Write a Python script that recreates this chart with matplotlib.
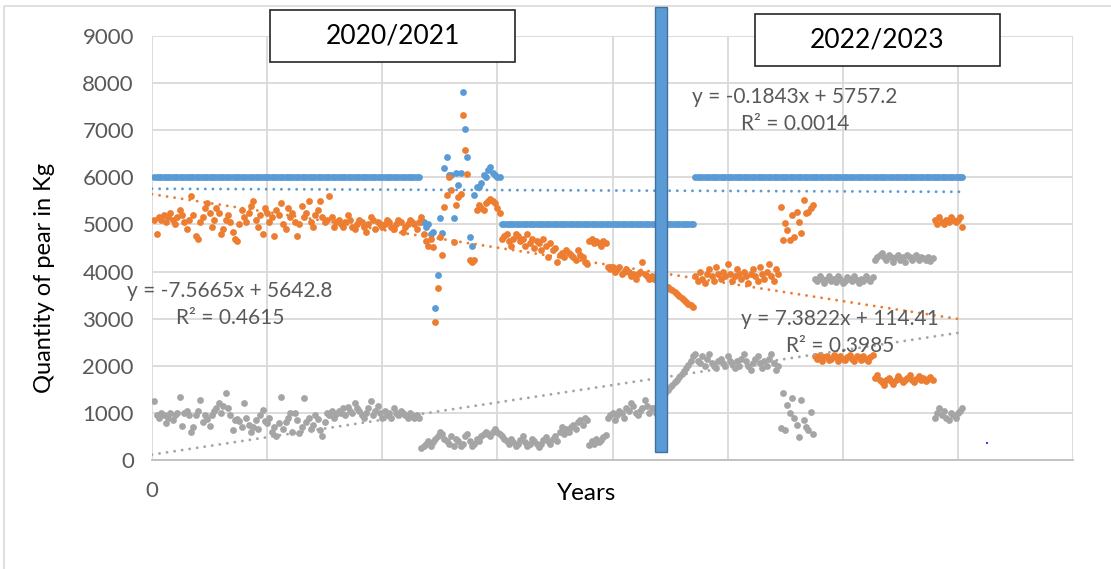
import numpy as np
import matplotlib.pyplot as plt
from matplotlib.patches import Rectangle

plt.rcParams['font.family'] = ['Lato', 'DejaVu Sans']

# data, one value per day index (x = 1 .. 352)
blue = ([6000] * 116 +
        [5050, 5050, 4950, 5000, 4800, 4850, 3230, 3930, 5130, 4820,
         6200, 6430, 6050, 6050, 5130, 6100, 5840, 6100, 7820, 7020,
         6430, 4730, 4550, 5620, 5800, 5800, 5880, 6050, 6000, 6150,
         6220, 6100, 6050, 6000, 6000] +
        [5000] * 84 +
        [6000] * 117)

orange = [5100, 4800, 5150, 5100, 5200, 5050, 5150, 5250, 5100, 5000,
          5150, 5300, 5200, 5050, 4900, 5100, 5600, 5200, 4750, 4700,
          5050, 5150, 5350, 5450, 5250, 4950, 5100, 5350, 5250, 4800,
          4900, 5100, 5200, 5050, 4850, 4700, 4650, 5000, 5300, 5150,
          5050, 5250, 5400, 5500, 5100, 4950, 5200, 4800, 5350, 5250,
          5050, 5150, 4750, 5300, 5200, 5450, 5000, 4900, 5350, 5150,
          5250, 5050, 4750, 5000, 5400, 5150, 5250, 5500, 5050, 4950,
          5200, 5300, 5500, 5150, 5050, 5100, 5600, 5150, 4950, 5050,
          5100, 5000, 4950, 5050, 5200, 5100, 4950, 4900, 5000, 5100,
          5050, 4950, 4850, 5000, 5150, 5100, 4900, 5050, 5000, 4950,
          5000, 5100, 5050, 4950, 4900, 5000, 5100, 5050, 4850, 4950,
          5000, 5100, 5050, 5000, 4900, 5050,
          5160, 4800, 4650, 4550, 4700, 4520, 2930, 3650, 4730, 4350,
          5370, 5630, 6000, 5730, 4630, 5410, 5580, 5650, 7320, 6580,
          6070, 4250, 4200, 4250, 5300, 5410, 5350, 5300, 5450, 5500,
          5550, 5500, 5450, 5350, 5250,
          4700, 4750, 4800, 4650, 4550, 4700, 4800, 4750,
          4650, 4700, 4550, 4800, 4600, 4700, 4500, 4650, 4600, 4450,
          4700, 4550, 4300, 4600, 4450, 4500, 4200, 4350, 4400, 4300, 4450,
          4400, 4350, 4300, 4250, 4450, 4350, 4300, 4200, 4150,
          4650, 4700, 4600, 4650, 4600, 4550, 4650, 4600,
          4100, 4050, 4100, 4000, 4050, 4100, 3950, 4000, 4050, 4000,
          3900, 3950, 3850, 3950, 4000, 4200, 3950, 3900, 3850, 3900,
          3850, 3820, 3780, 3750, 3720, 3700, 3680, 3640, 3600, 3560,
          3520, 3480, 3440, 3400, 3360, 3320, 3280, 3250,
          3900, 3800, 4000, 3850, 3750, 3950, 4050, 3900, 3800, 4100,
          3950, 3850, 4000, 3900, 4150, 3950, 3800, 3900, 4050, 3950,
          3850, 4000, 3900, 3750, 3950, 4050, 3900, 3800, 4100, 3950,
          3850, 4000, 4150, 3900, 3800, 4050, 3950,
          5370, 4680, 5030, 4880, 4670, 5200, 4740, 5270, 5050, 4810,
          5520, 5240, 5270, 5350, 5410,
          2200, 2150, 2230, 2100, 2180, 2200, 2120, 2150, 2230, 2180,
          2100, 2200, 2150, 2120, 2180, 2230, 2150, 2100, 2200, 2180,
          2130, 2200, 2150, 2100, 2180, 2230,
          1750, 1800, 1700, 1650, 1600, 1700, 1750, 1680, 1620, 1700,
          1780, 1720, 1650, 1700, 1750, 1800, 1700, 1650, 1720, 1780,
          1700, 1750, 1680, 1720, 1760, 1700,
          5100, 5000, 5150, 5050, 5000, 5100, 5050, 5150, 5100, 5050,
          5100, 5150, 4950]

gray = [1250, 950, 900, 1000, 950, 780, 900, 1000, 850, 950,
        1000, 1340, 720, 1000, 1050, 950, 600, 700, 950, 1050,
        1270, 800, 950, 870, 720, 960, 1050, 1100, 1200, 1000,
        1150, 1420, 1100, 950, 640, 850, 880, 820, 700, 1200,
        900, 750, 600, 700, 850, 650, 950, 1060, 820, 780,
        900, 600, 700, 500, 780, 1340, 650, 800, 900, 1000,
        600, 1000, 850, 570, 700, 1310, 800, 900, 650, 750,
        950, 880, 630, 500, 800, 1000, 950, 1050, 900, 980,
        1050, 1000, 1100, 950, 1130, 1050, 1000, 1200, 1100, 1050,
        950, 900, 1000, 1100, 1250, 950, 1050, 1150, 1000, 900,
        1050, 950, 1000, 900, 1100, 1000, 950, 1050, 1000, 950,
        900, 1000, 950, 900, 950, 900,
        250, 300, 350, 400, 300, 380, 450, 500, 600, 550,
        450, 400, 350, 500, 300, 450, 400, 300, 350, 500,
        550, 400, 300, 350, 450, 400, 500, 550, 600, 550,
        500, 600, 650, 600, 550,
        500, 450, 400, 350, 450, 380, 300, 350, 420, 500,
        380, 300, 350, 450, 400, 330, 280, 350, 420, 480,
        400, 350, 450, 520, 400, 600, 700,
        550, 650, 600, 700, 750, 650, 800, 850, 750, 900, 850,
        320, 400, 350, 450, 380, 420, 480, 530,
        900, 950, 1000, 850, 950, 1050, 1000, 900, 1100, 1050,
        1200, 1150, 1000, 950, 1050, 1100, 1270, 1150, 1000, 1100,
        1100, 1000, 1150, 1250, 1350, 1420, 1490, 1540, 1600, 1650,
        1700, 1760, 1820, 1880, 1950, 2020, 2100, 2200,
        2250, 2100, 2050, 2200, 2000, 2150, 2250, 2050, 2000, 1950,
        2100, 2150, 2050, 2000, 2200, 2100, 2050, 1950, 2100, 2000,
        2150, 2250, 2100, 2000, 1900, 2050, 2150, 2200, 2050, 1950,
        2100, 2000, 2150, 2250, 2050, 1900, 2000,
        680, 1420, 640, 1170, 1000, 1310, 890, 740, 490, 1270,
        850, 700, 640, 1020, 560,
        3850, 3800, 3900, 3850, 3750, 3850, 3900, 3800, 3850, 3780,
        3900, 3850, 3750, 3800, 3880, 3850, 3800, 3900, 3830, 3750,
        3850, 3800, 3900, 3850, 3800, 3880,
        4250, 4300, 4350, 4400, 4300, 4250, 4350, 4300, 4200, 4300,
        4350, 4250, 4300, 4200, 4350, 4300, 4250, 4300, 4350, 4250,
        4300, 4280, 4250, 4300, 4220, 4280,
        900, 1000, 1100, 950, 1050, 900, 850, 1000, 950, 900,
        1000, 1050, 1100]

# Excel trendline coefficients (slope, intercept, R^2) as printed on the chart
trend_blue = (-0.1843, 5757.2, 0.0014)
trend_orange = (-7.5665, 5642.8, 0.4615)
trend_gray = (7.3822, 114.41, 0.3985)

stray_x = [362.6]
stray_y = [360]

x = np.arange(1, len(orange) + 1)
series = [(blue, '#5B9BD5', trend_blue),
          (orange, '#ED7D31', trend_orange),
          (gray, '#A5A5A5', trend_gray)]

W, H = 1111, 569
fig = plt.figure(figsize=(W / 100, H / 100), dpi=100)
ax = fig.add_axes([152 / W, 109 / H, 921 / W, 424 / H])

for vals, col, tr in series:
    ax.plot(x, vals, 'o', color=col, ms=4.9, mew=0, zorder=3)
for vals, col, tr in series:
    xt = np.array([0, len(vals)])
    ax.plot(xt, tr[0] * xt + tr[1], color=col, lw=2.1,
            linestyle=(0, (0.01, 2.6)), dash_capstyle='round', zorder=4)
ax.plot(stray_x, stray_y, 's', color='#3a3aff', ms=1.5, mew=0)

ax.set_xlim(0, 400)
ax.set_ylim(0, 9000)
ax.set_xticks(range(0, 401, 50))
ax.set_xticklabels(['0'] + [''] * 8)
ax.set_yticks(range(0, 9001, 1000))
ax.tick_params(length=0, labelsize=16, labelcolor='#595959')
ax.tick_params(axis='y', pad=13)
ax.tick_params(axis='x', pad=15)
ax.grid(color='#D9D9D9', lw=1.3)
ax.set_axisbelow(True)
for s in ['top', 'right', 'left']:
    ax.spines[s].set_visible(False)
ax.spines['bottom'].set_color('#BFBFBF')
ax.spines['bottom'].set_linewidth(1.3)

def fx(px):
    return px / W

def fy(py):
    return 1 - py / H

fig.text(fx(587), fy(494), 'Years', ha='center', va='center', fontsize=17.5)
fig.text(fx(45), fy(278), 'Quantity of pear in Kg', ha='center', va='center',
         rotation=90, fontsize=17)

# season boxes
for x0, x1, y0, y1, label in [(270, 515, 10, 62, '2020/2021'),
                              (755, 1000, 14, 66, '2022/2023')]:
    fig.patches.append(Rectangle((fx(x0), fy(y1)), fx(x1 - x0), (y1 - y0) / H,
                                 transform=fig.transFigure, fc='white',
                                 ec='#262626', lw=1.2, zorder=5))
    fig.text(fx((x0 + x1) / 2), fy((y0 + y1) / 2), label, ha='center',
             va='center', fontsize=19, zorder=6)

# divider bar
fig.patches.append(Rectangle((fx(655), fy(452)), fx(12), 445 / H,
                             transform=fig.transFigure, fc='#5B9BD5',
                             ec='#41719C', lw=1, zorder=5))

# trendline equations, two lines each
for cx, cy, tr in [(230, 291, trend_orange), (795, 97, trend_blue),
                   (840, 319, trend_gray)]:
    sign = '-' if tr[0] < 0 else ''
    eq = 'y = %s%.4fx + %s' % (sign, abs(tr[0]), tr[1])
    fig.text(fx(cx), fy(cy), eq, ha='center', va='center',
             fontsize=15, color='#595959', zorder=6)
    fig.text(fx(cx), fy(cy + 27), 'R² = %.4f' % tr[2], ha='center',
             va='center', fontsize=15, color='#595959', zorder=6)

# chart area border (top and left edges visible)
fig.lines.append(plt.Line2D([fx(4), fx(4), 1], [0, fy(6), fy(6)],
                            transform=fig.transFigure, color='#D9D9D9', lw=1.2))

fig.savefig('out.png', dpi=100)
